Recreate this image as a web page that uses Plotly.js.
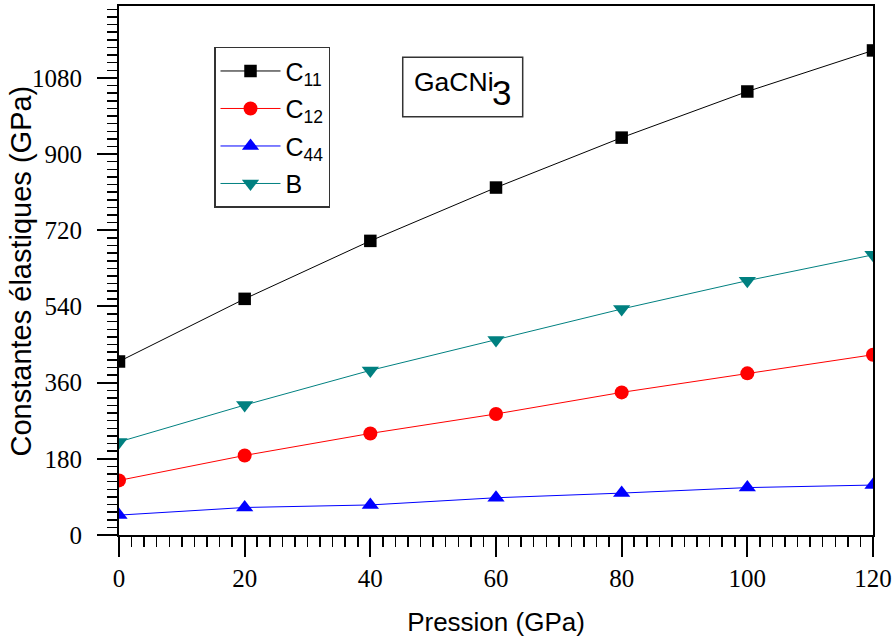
<!DOCTYPE html>
<html><head><meta charset="utf-8">
<script src="https://cdn.plot.ly/plotly-3.0.1.min.js"></script>
<style>html,body{margin:0;padding:0;background:#fff}</style>
</head><body>
<div id="chart" style="width:895px;height:640px"></div>
<script>
const pressure = [0, 20, 40, 60, 80, 100, 120];
const c11 = [410, 558, 695, 821, 939, 1048, 1145];
const c12 = [129, 188, 240, 286, 337, 382, 426];
const c44 = [47, 65, 71, 88, 99, 112, 118];
const bulk = [220, 307, 389, 461, 534, 601, 662];
const seriesNames = ['C<sub>11</sub>', 'C<sub>12</sub>', 'C<sub>44</sub>', 'B'];
const xTicks = [0, 20, 40, 60, 80, 100, 120];
const yTicks = [0, 180, 360, 540, 720, 900, 1080];

const colors = ['#000000', '#ff0000', '#0000ff', '#008080'];
const symbols = ['square', 'circle', 'triangle-up', 'triangle-down'];
const sizes = [12.5, 14, 15, 15];
const ys = [c11, c12, c44, bulk];

const traces = ys.map((y, i) => ({
  x: pressure, y: y, name: seriesNames[i], type: 'scatter', mode: 'lines+markers',
  line: {color: colors[i], width: 1},
  marker: {symbol: symbols[i], size: sizes[i], color: colors[i]},
  legendgroup: 'g' + i
}));

const sans = 'Liberation Sans, Arial, sans-serif';
const tickFont = {family: 'Liberation Serif, Times New Roman, serif', size: 25, color: '#000'};
const layout = {
  width: 895, height: 640,
  margin: {l: 119, r: 22, t: 6, b: 105},
  paper_bgcolor: '#fff', plot_bgcolor: '#fff',
  showlegend: true,
  legend: {
    x: 0.126, y: 0.923, xanchor: 'left', yanchor: 'top',
    bordercolor: '#333', borderwidth: 1.5, bgcolor: '#fff',
    font: {family: sans, size: 25, color: '#000'},
    itemwidth: 60, tracegroupgap: 2
  },
  xaxis: {
    range: [0, 120], tickvals: xTicks, ticktext: xTicks.map(String),
    ticks: 'outside', ticklen: 20, tickwidth: 2, tickcolor: '#000',
    showline: true, linewidth: 2, linecolor: '#000', mirror: true,
    showgrid: false, zeroline: false,
    minor: {dtick: 2, tick0: 0, ticks: 'outside', ticklen: 10, tickwidth: 1.5, tickcolor: '#000', showgrid: false},
    tickfont: tickFont,
    title: {text: 'Pression (GPa)', font: {family: sans, size: 26, color: '#000'}, standoff: 22}
  },
  yaxis: {
    range: [0, 1250], tickvals: yTicks, ticktext: yTicks.map(String),
    ticks: 'outside', ticklen: 20, tickwidth: 2, tickcolor: '#000',
    showline: true, linewidth: 2, linecolor: '#000', mirror: true,
    showgrid: false, zeroline: false,
    minor: {dtick: 18, tick0: 0, ticks: 'outside', ticklen: 10, tickwidth: 1.5, tickcolor: '#000', showgrid: false},
    tickfont: tickFont, ticklabelstandoff: 10
  },
  xaxis2: {
    overlaying: 'x', side: 'top', anchor: 'y', range: [0, 120], showticklabels: false,
    ticks: 'inside', ticklen: 3, tickwidth: 1, tickcolor: '#000', dtick: 2, tick0: 0,
    showgrid: false, zeroline: false, showline: false
  },
  yaxis2: {
    overlaying: 'y', side: 'right', anchor: 'x', range: [0, 1250], showticklabels: false,
    ticks: 'inside', ticklen: 3, tickwidth: 1, tickcolor: '#000', dtick: 18, tick0: 0,
    showgrid: false, zeroline: false, showline: false
  },
  shapes: [{
    type: 'rect', xref: 'paper', yref: 'paper', x0: 0.3763, x1: 0.5354, y0: 0.7907, y1: 0.9030,
    line: {color: '#333', width: 1.5}, fillcolor: '#fff', layer: 'above'
  }],
  annotations: [
    {xref: 'paper', yref: 'paper', x: -0.130, y: 0.5, xanchor: 'center', yanchor: 'middle', textangle: -90,
     text: 'Constantes élastiques (GPa)', showarrow: false, font: {family: sans, size: 29, color: '#000'}},
    {xref: 'paper', yref: 'paper', x: 0.3885, y: 0.8565, xanchor: 'left', yanchor: 'middle',
     text: 'GaCNi', showarrow: false, font: {family: sans, size: 26.5, color: '#000'}},
    {xref: 'paper', yref: 'paper', x: 0.4925, y: 0.8365, xanchor: 'left', yanchor: 'middle',
     text: '3', showarrow: false, font: {family: sans, size: 35, color: '#000'}}
  ]
};

Plotly.newPlot('chart', traces, layout, {displayModeBar: false, staticPlot: true});
</script>
</body></html>
